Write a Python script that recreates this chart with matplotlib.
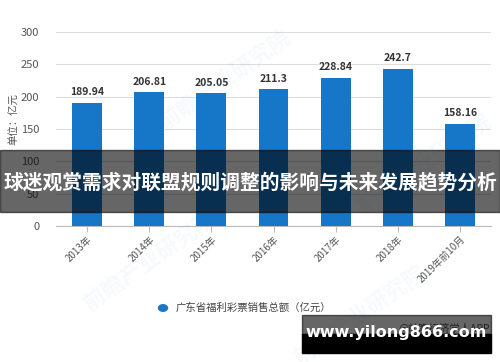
import matplotlib.pyplot as plt
from matplotlib.patches import Rectangle

plt.rcParams['font.family'] = ['Noto Sans CJK SC', 'DejaVu Sans']

years = ['2013年', '2014年', '2015年', '2016年', '2017年', '2018年', '2019年前10月']
sales = [189.94, 206.81, 205.05, 211.3, 228.84, 242.7, 158.16]
sales_labels = ['189.94', '206.81', '205.05', '211.3', '228.84', '242.7', '158.16']
yticks = [0, 50, 100, 150, 200, 250, 300]

fig = plt.figure(figsize=(5, 3.62), dpi=100)
ax = fig.add_axes([0.112, 0.376, 0.87, 0.536])

x = range(len(years))
bars = ax.bar(x, sales, width=0.48, color='#1677c8', zorder=3)

for rect, lab in zip(bars, sales_labels):
    ax.annotate(lab, xy=(rect.get_x() + rect.get_width() / 2, rect.get_height()),
                xytext=(0, 4), textcoords='offset points',
                ha='center', va='bottom', fontsize=7.5, fontweight='bold', color='#333333')

ax.set_xlim(-0.5, len(years) - 0.5)
ax.set_ylim(0, 300)
ax.set_yticks(yticks)
ax.yaxis.grid(True, color='#dddddd', linewidth=0.8, zorder=0)
ax.tick_params(axis='y', length=0, labelsize=8, labelcolor='#555555', pad=12)
ax.set_xticks(list(x))
ax.set_xticklabels(years, rotation=45, ha='right', rotation_mode='anchor',
                   fontsize=7, color='#555555')
ax.tick_params(axis='x', length=4, color='#bbbbbb', pad=2)
for s in ['top', 'right', 'left']:
    ax.spines[s].set_visible(False)
ax.spines['bottom'].set_color('#bbbbbb')
ax.set_ylabel('单位：亿元', fontsize=7.5, color='#555555', labelpad=10)
ax.yaxis.set_label_coords(-0.085, 0.55)

# faint watermarks
for wx, wy in [(0.45, 0.78), (0.30, 0.28), (0.72, 0.13), (0.85, 0.55)]:
    fig.text(wx, wy, '前瞻产业研究院', fontsize=16, color='#1677c8', alpha=0.04,
             rotation=35, ha='center', va='center', fontweight='bold')

# legend
fig.patches.append(plt.Circle((163 / 500, 1 - 308 / 362), 0.009, transform=fig.transFigure,
                              color='#1677c8', figure=fig))
fig.text(176 / 500, 1 - 308 / 362, '广东省福利彩票销售总额（亿元）', fontsize=7.5,
         color='#444444', va='center', ha='left')
fig.text(490 / 500, 1 - 328 / 362, '@前瞻经济学人APP', fontsize=7.5,
         color='#555555', va='center', ha='right')

# title banner
fig.patches.append(Rectangle((0, 1 - 212 / 362), 1, 62 / 362, transform=fig.transFigure,
                             color='black', alpha=0.6, figure=fig, zorder=5))
fig.text(0.5, 1 - 182 / 362, '球迷观赏需求对联盟规则调整的影响与未来发展趋势分析',
         fontsize=14.2, fontweight='bold', color='white', ha='center', va='center', zorder=6)

# site banner
fig.patches.append(Rectangle((302 / 500, 1 - 334 / 362), 189 / 500, 19 / 362,
                             transform=fig.transFigure, color='black', alpha=0.6,
                             figure=fig, zorder=5))
fig.patches.append(Rectangle((302 / 500, 1 - 353 / 362), 189 / 500, 19 / 362,
                             transform=fig.transFigure, color='black', alpha=1.0,
                             figure=fig, zorder=5))
fig.text(396 / 500, 1 - 333 / 362, 'www.yilong866.com', fontsize=11.5, fontweight='bold',
         color='white', ha='center', va='center', zorder=6, family='DejaVu Sans')

fig.savefig('out.png', dpi=100)
